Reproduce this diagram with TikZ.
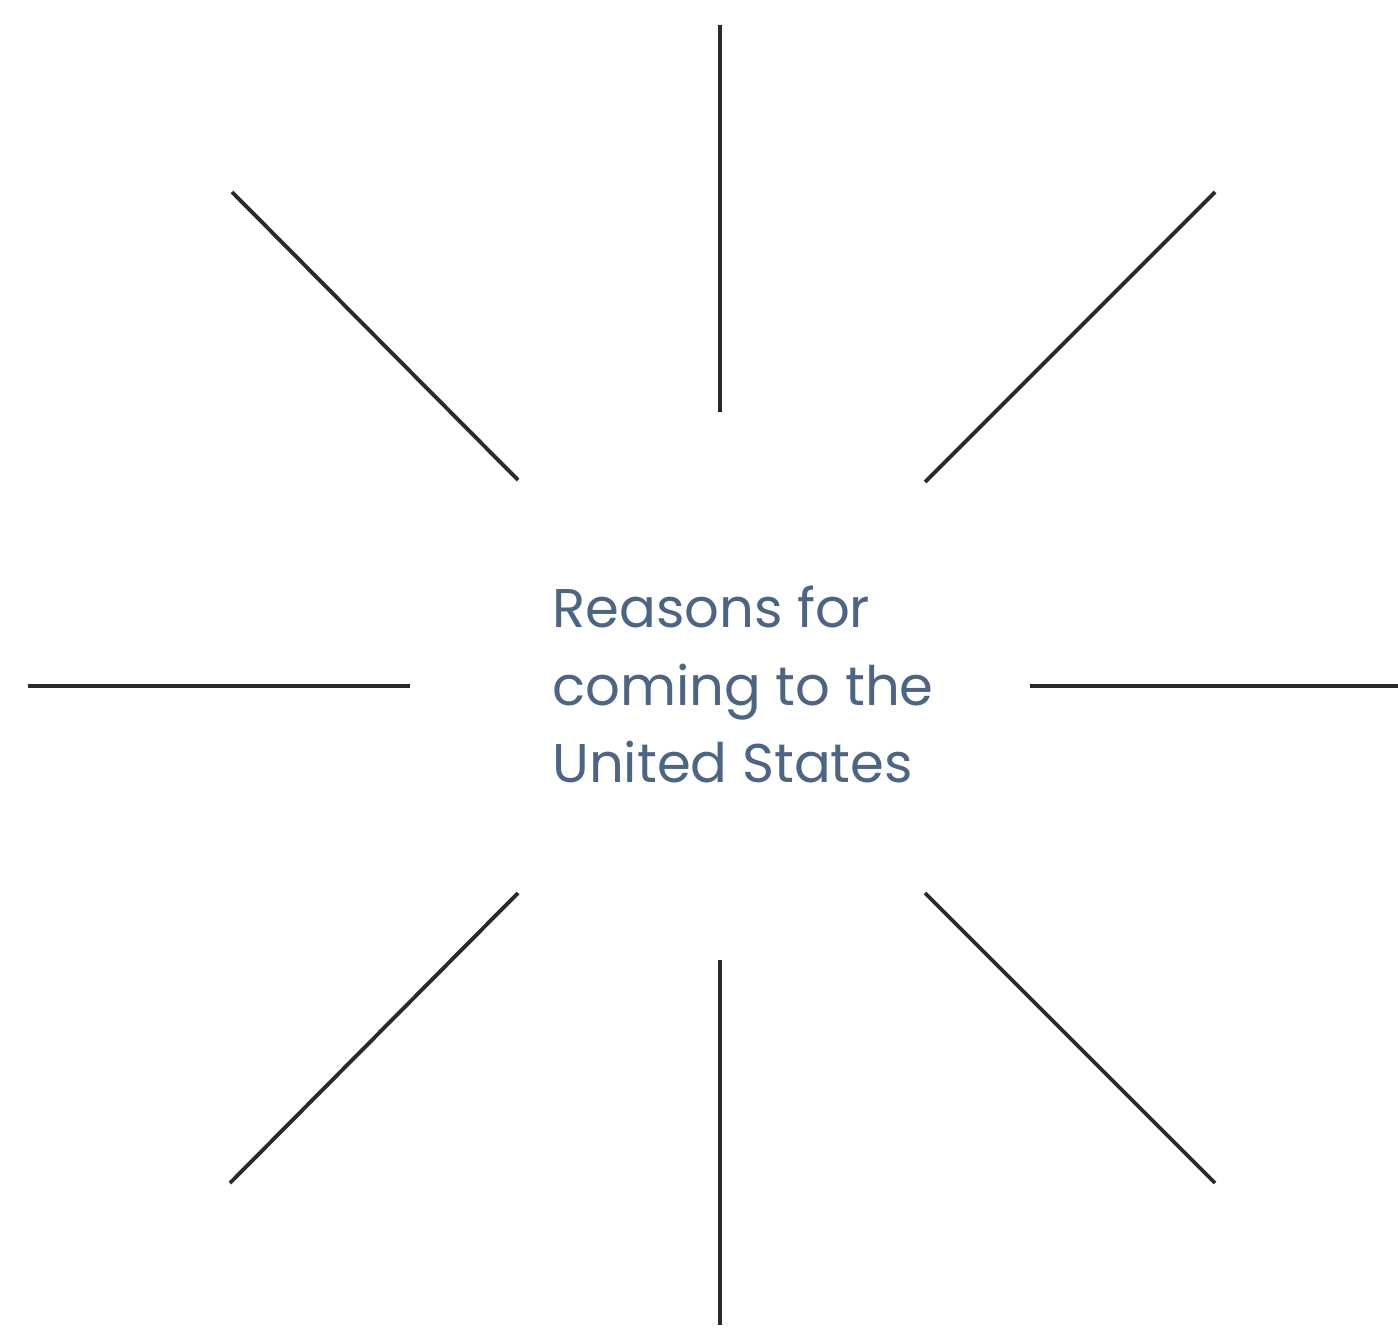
\documentclass[tikz,border=0pt]{standalone}
\usepackage{fontspec}
\setmainfont{Poppins}
\definecolor{txtblue}{HTML}{4D6582}
\definecolor{ray}{HTML}{2A2A2A}
\begin{document}
\begin{tikzpicture}[x=0.02cm,y=-0.02cm,
  raystyle/.style={draw=ray,line width=2.2pt},
  label/.style={text=txtblue,align=left,font=\fontsize{31}{44}\selectfont,inner sep=0pt,anchor=north west}]
\useasboundingbox (0,0) rectangle (1398,1334);
\coordinate (t1) at (720,25);   \coordinate (t2) at (720,412);
\coordinate (b1) at (720,960);  \coordinate (b2) at (720,1325);
\coordinate (l1) at (28,686);   \coordinate (l2) at (410,686);
\coordinate (r1) at (1030,686); \coordinate (r2) at (1398,686);
\coordinate (ul1) at (232,192); \coordinate (ul2) at (518,480);
\coordinate (ur1) at (1215,192);\coordinate (ur2) at (925,482);
\coordinate (ll1) at (518,893); \coordinate (ll2) at (230,1183);
\coordinate (lr1) at (925,893); \coordinate (lr2) at (1215,1183);
\foreach \a/\b in {t1/t2,b1/b2,l1/l2,r1/r2,ul1/ul2,ur1/ur2,ll1/ll2,lr1/lr2}
  \draw[raystyle] (\a) -- (\b);
\node[label] (center) at (552,586) {Reasons for\\coming to the\\United States};
\end{tikzpicture}
\end{document}
